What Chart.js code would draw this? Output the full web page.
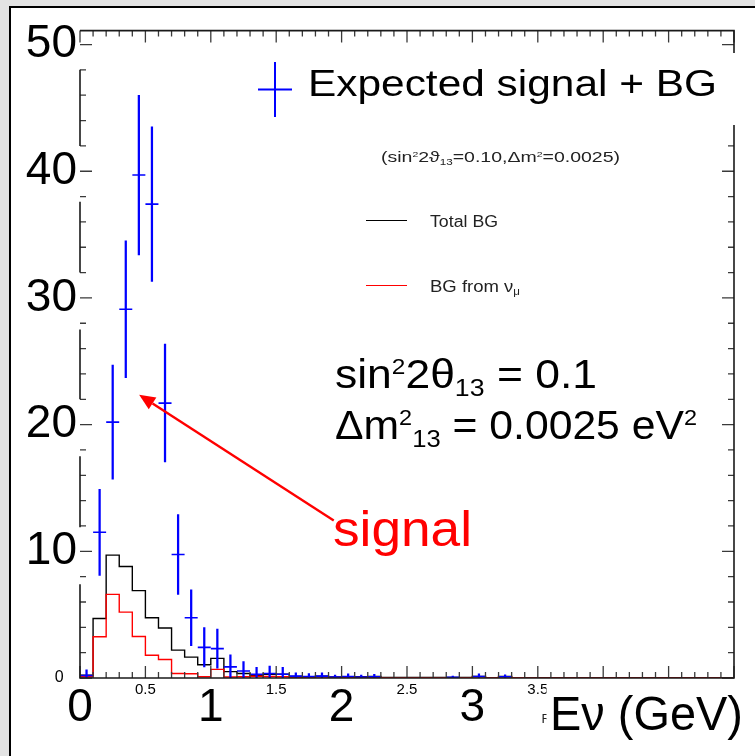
<!DOCTYPE html>
<html>
<head>
<meta charset="utf-8">
<title>Expected signal + BG</title>
<script src="https://cdn.jsdelivr.net/npm/chart.js@4.4.1/dist/chart.umd.min.js"></script>
<style>
  html, body { margin:0; padding:0; width:755px; height:756px; overflow:hidden; background:#e3e3e3; }
  #panel { position:absolute; left:9px; top:6px; width:746px; height:750px; box-sizing:border-box;
           background:#fff; border-left:2px solid #000; border-top:2px solid #000; }
  #c { position:absolute; left:0; top:0; }
</style>
</head>
<body>
<div id="panel"></div>
<canvas id="c" width="755" height="756"></canvas>
<script>
// ---------------- data ----------------
// lower bin edges (GeV), last entry is the upper edge of the last bin
const binEdges = [0.0,0.1,0.2,0.3,0.4,0.5,0.6,0.7,0.8,0.9,1.0,1.1,1.2,1.3,1.4,1.5,1.6,1.7,1.8,1.9,
                  2.0,2.1,2.2,2.3,2.4,2.5,2.6,2.7,2.8,2.9,3.0,3.1,3.2,3.3,3.4,3.5,3.6,3.7,3.8,3.9,
                  4.0,4.1,4.2,4.3,4.4,4.5,4.6,4.7,4.8,4.9,5.0];
// Total BG per bin (black histogram)
const totalBG = [0.22,4.7,9.7,8.8,6.9,4.75,3.95,2.2,1.65,1.05,
                 1.55,0.5,0.36,0.22,0.3,0.3,0.12,0.1,0.15,0.08,
                 0.1,0.1,0.12,0.05,0.05,0.05,0.04,0.04,0.05,0.04,
                 0.12,0.03,0.12,0.03,0.02,0.02,0.02,0.02,0.02,0.02,
                 0.02,0.02,0.02,0.02,0.02,0.02,0.02,0.02,0.02,0.02];
// BG from nu_mu per bin (red histogram)
const bgNuMu = [0.12,3.26,6.6,5.2,3.28,1.8,1.46,0.36,0.34,0.1,
                0.68,0.08,0.1,0.14,0.12,0.1,0.06,0.05,0.08,0.05,
                0.05,0.05,0.06,0.03,0.03,0.03,0.03,0.03,0.03,0.03,
                0.1,0.02,0.1,0.02,0.01,0.01,0.01,0.01,0.01,0.01,
                0.01,0.01,0.01,0.01,0.01,0.01,0.01,0.01,0.01,0.01];
// Expected signal + BG (blue points with errors), only non-empty bins
const signalE   = [0.05,0.15,0.25,0.35,0.45,0.55,0.65,0.75,0.85,0.95,1.05,1.15,1.25,
                   1.35,1.45,1.55,1.65,1.75,1.85,1.95,2.05,2.15,2.25,2.85,3.05,3.25];
const signalVal = [0.2,11.5,20.2,29.1,39.7,37.4,21.7,9.75,4.75,2.42,2.32,0.88,0.55,
                   0.3,0.35,0.3,0.15,0.12,0.15,0.08,0.12,0.08,0.1,0.06,0.12,0.1];
const signalErr = [0.45,3.4,4.5,5.4,6.3,6.1,4.65,3.15,2.2,1.55,1.55,0.95,0.75,
                   0.55,0.6,0.55,0.25,0.22,0.25,0.15,0.2,0.15,0.18,0.1,0.2,0.16];
// tick labels
const yBigLabels   = [10,20,30,40,50];
const ySmallLabels = [0];
const xBigLabels   = [0,1,2,3];
const xSmallLabels = [0.5,1.5,2.5,3.5];
// texts
const legendText  = 'Expected signal + BG';
const paramText   = [['(sin',''],['2','sup'],['2\u03D1',''],['13','sub'],['=0.10,\u0394m',''],['2','sup'],['=0.0025)','']];
const totalBGText = [['Total BG','']];
const nuMuText    = [['BG from \u03BD',''],['\u03BC','sub']];
const formula1    = [['sin',''],['2','sup'],['2\u03B8',''],['13','sub'],[' = 0.1','']];
const formula2    = [['\u0394m',''],['2','sup'],['13','sub'],[' = 0.0025 eV',''],['2','sup']];
const signalText  = 'signal';
const xTitleText  = 'E\u03BD (GeV)';
const arrowFrom = [1.94, 12.43];   // (GeV, entries)
const arrowTo   = [0.452, 22.36];

// ---------------- style / layout ----------------
const FONT = '"Liberation Sans", Arial, Helvetica, sans-serif';
const Y_MAX = 51.1;
const leftAxisGaps = [[7.4,11.9],[17.5,22],[27.5,32],[37.6,42],[48,Y_MAX]];

function drawRich(ctx, parts, x, baseline, size, color, fitWidth) {
  const fontFor = s => (s === 'sup' ? Math.round(size*0.55) : s === 'sub' ? Math.round(size*0.6) : size) + 'px ' + FONT;
  const widths = parts.map(p => { ctx.font = fontFor(p[1]); return ctx.measureText(p[0]).width; });
  const total = widths.reduce((a,b)=>a+b,0);
  const sx = fitWidth ? fitWidth/total : 1;
  ctx.save();
  ctx.translate(x, baseline);
  ctx.scale(sx, 1);
  ctx.fillStyle = color;
  ctx.textAlign = 'left';
  ctx.textBaseline = 'alphabetic';
  let cx = 0;
  parts.forEach((p,i) => {
    ctx.font = fontFor(p[1]);
    const dy = p[1]==='sup' ? -0.36*size : (p[1]==='sub' ? 0.2*size : 0);
    ctx.fillText(p[0], cx, dy);
    cx += widths[i];
  });
  ctx.restore();
}

const overlay = {
  id: 'overlay',
  afterDraw(chart) {
    const {ctx, chartArea: a, scales: {x, y}} = chart;
    ctx.save();
    // inward ticks
    ctx.strokeStyle = '#3a3a3a';
    ctx.lineWidth = 1.3;
    ctx.beginPath();
    for (let i = 0; i <= 50; i++) {
      const px = x.getPixelForValue(i/10);
      const len = i % 5 === 0 ? 12 : 6;
      ctx.moveTo(px, a.bottom); ctx.lineTo(px, a.bottom - len);
      ctx.moveTo(px, a.top);    ctx.lineTo(px, a.top + len);
    }
    for (let v = 0; v <= 50; v += 2) {
      const py = y.getPixelForValue(v);
      const len = v % 10 === 0 ? 12 : 6;
      ctx.moveTo(a.left, py);  ctx.lineTo(a.left + len, py);
      ctx.moveTo(a.right, py); ctx.lineTo(a.right - len, py);
    }
    ctx.stroke();
    // frame
    ctx.strokeStyle = '#1a1a1a';
    ctx.lineWidth = 1.6;
    ctx.beginPath();
    ctx.moveTo(a.left, a.top); ctx.lineTo(a.right, a.top);
    ctx.lineTo(a.right, a.bottom); ctx.lineTo(a.left - 0.8, a.bottom);
    let from = 0;
    leftAxisGaps.forEach(g => {
      ctx.moveTo(a.left, y.getPixelForValue(from));
      ctx.lineTo(a.left, y.getPixelForValue(g[0]));
      from = g[1];
    });
    ctx.stroke();

    // legend box (covers the right axis like in the picture)
    ctx.fillStyle = '#fff';
    ctx.fillRect(250, 53, 487, 72);
    ctx.strokeStyle = '#0000ff';
    ctx.lineWidth = 2;
    ctx.beginPath();
    ctx.moveTo(275, 62); ctx.lineTo(275, 117);
    ctx.moveTo(258, 89.5); ctx.lineTo(292, 89.5);
    ctx.stroke();
    drawRich(ctx, [[legendText,'']], 308, 96, 37, '#000', 409);

    // small ROOT legend
    drawRich(ctx, paramText, 381, 162, 15, '#222', 239);
    ctx.lineWidth = 1.2;
    ctx.strokeStyle = '#000000';
    ctx.beginPath(); ctx.moveTo(366, 220.5); ctx.lineTo(407, 220.5); ctx.stroke();
    drawRich(ctx, totalBGText, 430, 227, 16, '#222', 68);
    ctx.strokeStyle = '#ff0000';
    ctx.beginPath(); ctx.moveTo(366, 285.5); ctx.lineTo(407, 285.5); ctx.stroke();
    drawRich(ctx, nuMuText, 430, 292, 16, '#222', 90);

    // big formula
    drawRich(ctx, formula1, 335, 388, 40, '#000', 262);
    drawRich(ctx, formula2, 335, 439, 40, '#000', 362);

    // arrow
    const x0 = x.getPixelForValue(arrowFrom[0]), y0 = y.getPixelForValue(arrowFrom[1]);
    const x1 = x.getPixelForValue(arrowTo[0]),   y1 = y.getPixelForValue(arrowTo[1]);
    const dx = x0 - x1, dy = y0 - y1, L = Math.hypot(dx, dy);
    const ux = dx / L, uy = dy / L;
    const headLen = 16, headW = 7;
    const bx = x1 + ux*headLen, by = y1 + uy*headLen;
    ctx.strokeStyle = '#ff0000';
    ctx.fillStyle = '#ff0000';
    ctx.lineWidth = 2.4;
    ctx.beginPath(); ctx.moveTo(x0, y0); ctx.lineTo(bx, by); ctx.stroke();
    ctx.beginPath();
    ctx.moveTo(x1, y1);
    ctx.lineTo(bx - uy*headW, by + ux*headW);
    ctx.lineTo(bx + uy*headW, by - ux*headW);
    ctx.closePath(); ctx.fill();

    drawRich(ctx, [[signalText,'']], 333, 546, 50, '#ff0000', 139);

    // x title with its white box
    drawRich(ctx, [['R','']], 541.5, 723, 13, '#222', null);
    ctx.fillStyle = '#fff';
    ctx.fillRect(546.5, 683, 209, 73);
    drawRich(ctx, [[xTitleText,'']], 550, 730, 48, '#000', 193);
    ctx.restore();
  }
};

const histPoints = vals => binEdges.map((e, i) => ({x: e, y: vals[Math.min(i, vals.length - 1)]}));

new Chart(document.getElementById('c'), {
  type: 'scatter',
  data: {
    datasets: [
      { type: 'bar', label: 'Expected signal + BG',
        data: signalE.map((e, i) => ({x: e, y: [Math.max(0, signalVal[i] - signalErr[i]), signalVal[i] + signalErr[i]]})),
        backgroundColor: '#0000ff', borderWidth: 0, barThickness: 1.6, grouped: false, order: 0 },
      { type: 'scatter', label: 'Expected signal + BG (value)',
        data: signalE.map((e, i) => ({x: e, y: signalVal[i]})),
        pointStyle: 'line', pointRadius: 6.5, pointHoverRadius: 6.5,
        borderColor: '#0000ff', pointBorderColor: '#0000ff', pointBorderWidth: 1.6,
        showLine: false, order: 0 },
      { type: 'line', label: 'BG from \u03BD\u03BC', data: histPoints(bgNuMu),
        stepped: 'before', borderColor: '#ff0000', borderWidth: 1.4, pointRadius: 0, fill: false, order: 1 },
      { type: 'line', label: 'Total BG', data: histPoints(totalBG),
        stepped: 'before', borderColor: '#000000', borderWidth: 1.4, pointRadius: 0, fill: false, order: 2 }
    ]
  },
  options: {
    responsive: false,
    animation: false,
    events: [],
    devicePixelRatio: 1,
    layout: { padding: { left: 0, top: 24, right: 21, bottom: 0 } },
    plugins: { legend: { display: false }, tooltip: { enabled: false }, title: { display: false } },
    scales: {
      x: {
        type: 'linear', min: 0, max: 5, offset: false,
        grid: { display: false, drawTicks: false, offset: false },
        border: { display: false },
        afterFit: s => { s.height = 78; },
        ticks: {
          stepSize: 0.5, autoSkip: false, maxRotation: 0, minRotation: 0, padding: 3, color: '#000',
          font: c => ({ family: FONT, size: (c.tick && xBigLabels.includes(c.tick.value)) ? 46 : 15 }),
          callback: v => (xBigLabels.includes(v) || xSmallLabels.includes(v)) ? String(v) : ''
        }
      },
      y: {
        type: 'linear', min: 0, max: Y_MAX,
        grid: { display: false, drawTicks: false },
        border: { display: false },
        afterFit: s => { s.width = 80; },
        ticks: {
          stepSize: 10, includeBounds: false, autoSkip: false, padding: 3, color: '#000',
          font: c => ({ family: FONT, size: (c.tick && ySmallLabels.includes(c.tick.value)) ? 16 : 46 }),
          callback: v => ySmallLabels.includes(v) ? String(v) + '   ' : (yBigLabels.includes(v) ? String(v) : '')
        }
      }
    }
  },
  plugins: [overlay]
});
</script>
</body>
</html>
